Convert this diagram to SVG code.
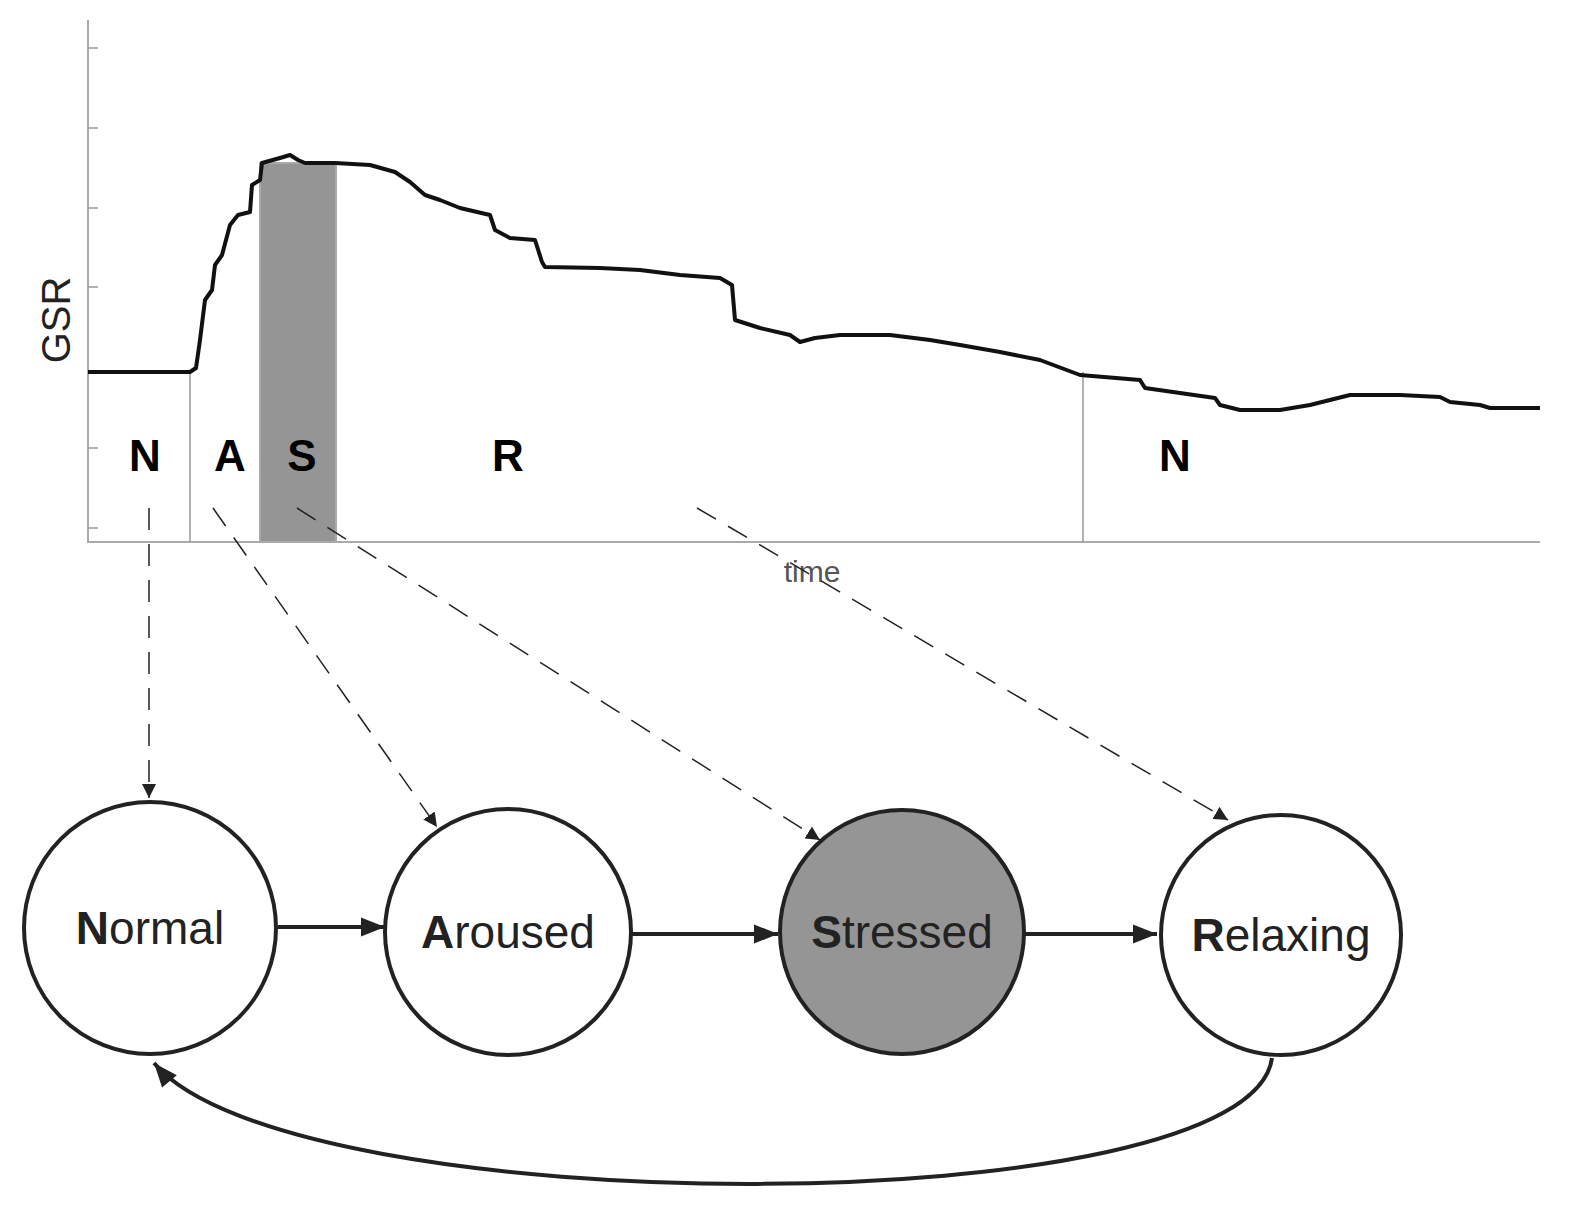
<svg xmlns="http://www.w3.org/2000/svg" width="1576" height="1209" viewBox="0 0 1576 1209">
<style>
.ax{stroke:#aaa;stroke-width:2;fill:none}
.thin{stroke:#999;stroke-width:1.5}
.seg{font-family:"Liberation Sans",Arial,sans-serif;font-weight:bold;font-size:44px;text-anchor:middle}
.dash{stroke:#222;stroke-width:1.5;fill:none;stroke-dasharray:22,14}
.node{stroke:#222;stroke-width:4;fill:#fff}
.lbl{font-family:"Liberation Sans",Arial,sans-serif;font-size:46px;text-anchor:middle;fill:#222}
.arr{stroke:#222;stroke-width:4;fill:none}
</style>
<defs>
<marker id="sm" viewBox="0 0 10 10" refX="10" refY="5" markerWidth="14" markerHeight="14" markerUnits="userSpaceOnUse" orient="auto"><path d="M0,0L10,5L0,10z" fill="#222"/></marker>
<marker id="big" viewBox="0 0 10 10" refX="10" refY="5" markerWidth="36" markerHeight="24" markerUnits="userSpaceOnUse" orient="auto"><path d="M0,1L10,5L0,9z" fill="#222"/></marker>
</defs>
<g id="chart">
<rect x="260" y="163" width="76" height="379" fill="#959595" stroke="#aaa" stroke-width="2"/>
<path class="ax" d="M88,20V542H1540"/>
<path class="thin" d="M88,48h10M88,128h10M88,208h10M88,287h10M88,448h10M88,528h10"/>
<path class="thin" d="M190,372V542M1083,372V542"/>
<path fill="none" stroke="#111" stroke-width="4" stroke-linejoin="round" d="M88,372L190,372L196,368L200,340L205,300L212,290L215,265L222,255L230,225L238,215L250,212L252,185L260,180L262,163L280,158L290,155L298,160L305,163L335,163L370,165L395,172L410,182L425,195L440,200L460,208L490,215L495,230L510,238L535,240L542,262L545,267L600,268L640,270L680,275L720,278L732,285L735,320L760,328L790,335L800,342L815,338L840,335L890,335L930,340L960,345L1000,352L1040,360L1080,375L1140,380L1145,388L1180,393L1215,398L1220,405L1240,410L1280,410L1310,405L1330,400L1350,395L1400,395L1440,397L1450,402L1480,405L1490,408L1540,408"/>
<text class="seg" x="145" y="471">N</text>
<text class="seg" x="230" y="471">A</text>
<text class="seg" x="302" y="471">S</text>
<text class="seg" x="508" y="471">R</text>
<text class="seg" x="1175" y="471">N</text>
<text x="812" y="582" font-family="Liberation Sans,Arial,sans-serif" font-size="30" fill="#555" text-anchor="middle">time</text>
<text transform="translate(70,320) rotate(-90)" font-family="Liberation Sans,Arial,sans-serif" font-size="40" fill="#222" text-anchor="middle">GSR</text>
</g>
<g id="connectors">
<path class="dash" d="M149,508L149,798" marker-end="url(#sm)"/>
<path class="dash" d="M213,508L437,827" marker-end="url(#sm)"/>
<path class="dash" d="M297,508L820,840" marker-end="url(#sm)"/>
<path class="dash" d="M697,508L1228,820" marker-end="url(#sm)"/>
<path class="arr" d="M278,927H385" marker-end="url(#big)"/>
<path class="arr" d="M632,934H778" marker-end="url(#big)"/>
<path class="arr" d="M1025,934H1157" marker-end="url(#big)"/>
<path class="arr" d="M1272,1058C1250,1225 290,1225 154,1063" marker-end="url(#big)"/>
</g>
<g id="normal"><circle class="node" cx="150" cy="928" r="126"/><text class="lbl" x="150" y="944"><tspan font-weight="bold">N</tspan>ormal</text></g>
<g id="aroused"><circle class="node" cx="508" cy="932" r="123"/><text class="lbl" x="508" y="948"><tspan font-weight="bold">A</tspan>roused</text></g>
<g id="stressed"><circle class="node" cx="902" cy="932" r="122" style="fill:#959595"/><text class="lbl" x="902" y="948"><tspan font-weight="bold">S</tspan>tressed</text></g>
<g id="relaxing"><circle class="node" cx="1281" cy="935" r="120"/><text class="lbl" x="1281" y="951"><tspan font-weight="bold">R</tspan>elaxing</text></g>
</svg>
